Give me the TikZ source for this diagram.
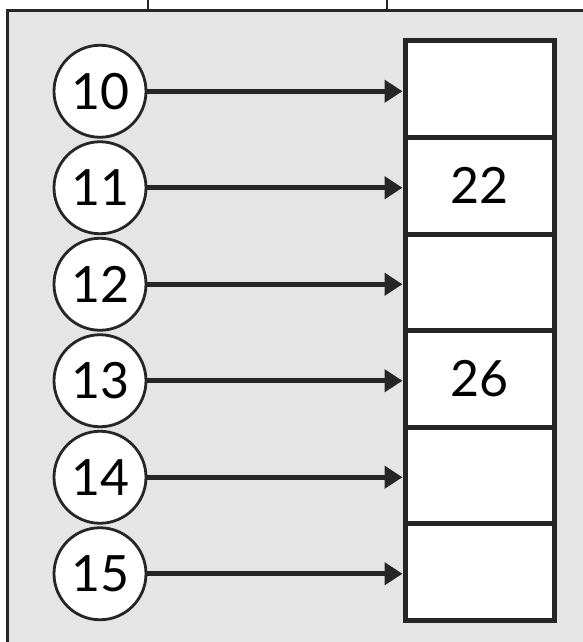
\documentclass[tikz,border=0pt]{standalone}
\usepackage{fontspec}
\setmainfont{Lato}
\usetikzlibrary{arrows.meta}
\definecolor{panel}{HTML}{E5E5E5}
\definecolor{ink}{HTML}{262626}

\begin{document}
\begin{tikzpicture}[x=1pt, y=-1pt, font=\fontsize{50}{50}\selectfont,
    key/.style={circle, draw=ink, line width=2.8pt, fill=white, minimum size=92pt, inner sep=0pt},
    cell/.style={rectangle, draw=ink, line width=5pt, fill=white, minimum width=149pt, minimum height=96.5pt, inner sep=0pt},
    link/.style={ink, line width=5pt, -{Triangle[length=18pt, width=22pt]}}]
    \useasboundingbox (0,0) rectangle (582,642);
    % the surrounding panel and its ties to the frame above
    \fill[panel] (7,11) rectangle (600,660);
    \draw[ink, line width=3pt] (7,660) -- (7,11) -- (600,11);
    \draw[ink, line width=2.5pt] (148,0) -- (148,11);
    \draw[ink, line width=2.5pt] (387,0) -- (387,11);
    % the column of cells
    \foreach \v [count=\i from 0] in {{},22,{},26,{},{}} {
      \node[cell] (cell\i) at (479.5, {41+96.5*(\i+0.5)}) {\v};
    }
    % the keys, each pointing at its cell
    \foreach \k [count=\i from 0] in {10,11,12,13,14,15} {
      \node[key] (key\i) at (100, {41+96.5*(\i+0.5)+2}) {\k};
      \draw[link] (key\i.east) -- (key\i.east -| cell\i.west);
    }
\end{tikzpicture}
\end{document}
